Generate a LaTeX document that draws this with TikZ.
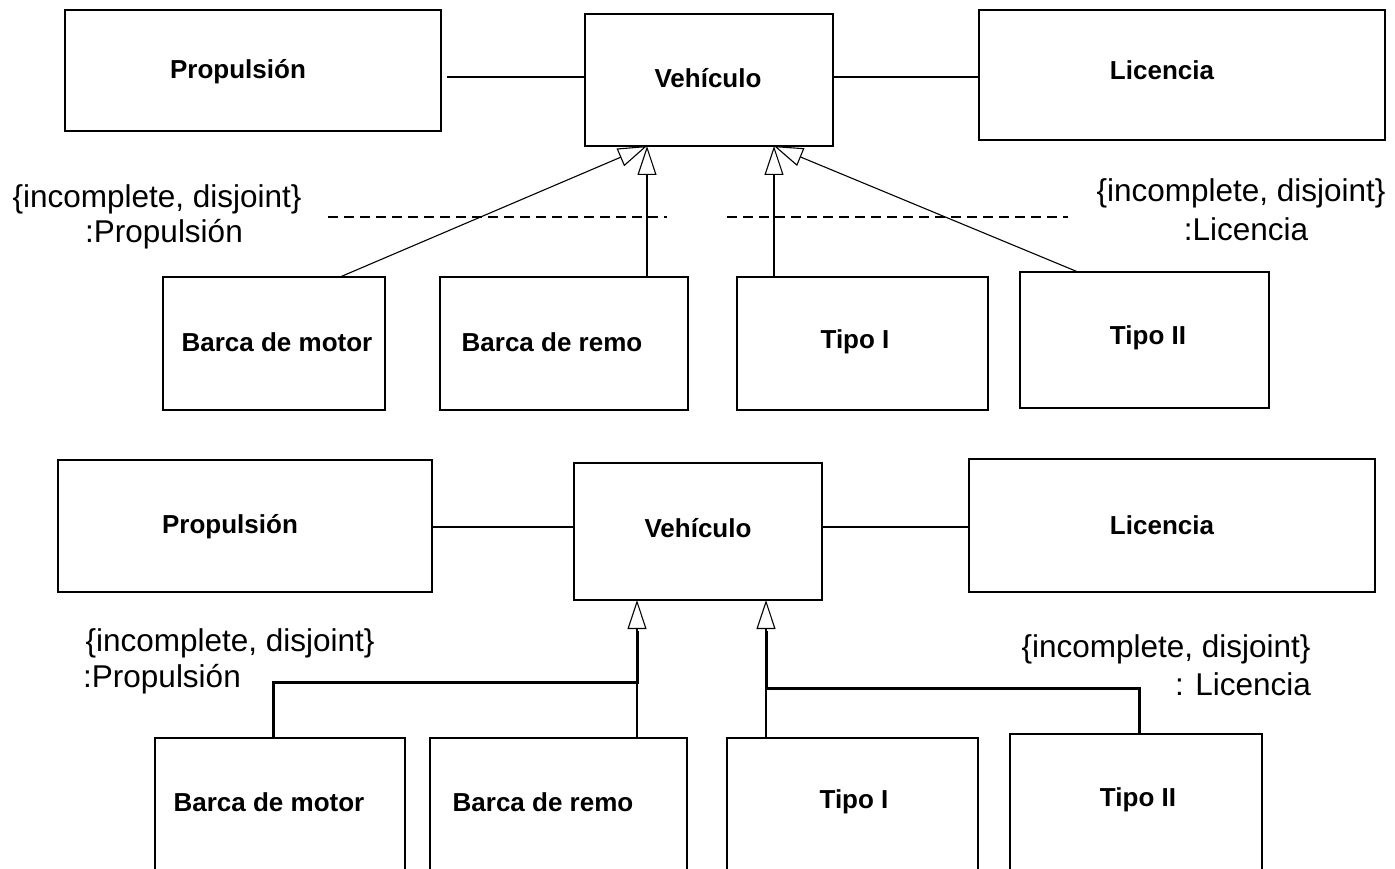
\documentclass[tikz,border=0pt]{standalone}
\usepackage{fontspec}
\setmainfont{Liberation Sans}
\usetikzlibrary{arrows.meta}
\begin{document}
\begin{tikzpicture}[x=1pt,y=-1pt,
  box/.style={draw,line width=1.6pt,minimum width=#1,inner sep=0pt},
  cname/.style={font=\fontsize{26}{31}\selectfont\bfseries},
  note/.style={font=\fontsize{31.5}{37}\selectfont,inner sep=0pt},
  assoc/.style={line width=1.6pt},
  gen/.style={line width=1.1pt,-{Triangle[open,length=29pt,width=19pt,fill=white,line width=1.1pt]}},
  thick2/.style={line width=3pt},
  dsh/.style={line width=2.6pt,dash pattern=on 10pt off 6pt}]
\useasboundingbox (0,0) rectangle (1395,869);
\clip (0,0) rectangle (1395,869);
% ---------- top diagram ----------
\node[box=376pt,minimum height=121pt] (prop1) at (253,70.5) {};
\node[cname] (prop1t) at (238,72) {Propulsión};
\node[box=248pt,minimum height=132pt] (veh1) at (709,80) {};
\node[cname] (veh1t) at (708,78) {Vehículo};
\node[box=406pt,minimum height=130pt] (lic1) at (1182,75) {};
\node[cname] (lic1t) at (1162,70) {Licencia};
\node[box=222pt,minimum height=133pt] (bm1) at (274,343.5) {};
\node[cname] (bm1t) at (277,342) {Barca de motor};
\node[box=248pt,minimum height=133pt] (br1) at (564,343.5) {};
\node[cname] (br1t) at (552,342) {Barca de remo};
\node[box=251pt,minimum height=133pt] (t11) at (862.5,343.5) {};
\node[cname] (t11t) at (855,342) {Tipo I};
\node[box=249pt,minimum height=136pt] (t21) at (1144.5,340) {};
\node[cname] (t21t) at (1148,338) {Tipo II};

\coordinate (pa1) at (447,77);
\draw[assoc] (pa1) -- (veh1.west |- pa1);
\draw[assoc] (veh1.east |- pa1) -- (lic1.west |- pa1);

\coordinate (tipL1) at (647,146);
\coordinate (tipR1) at (774,146);
\coordinate (sbm1) at (340,277);
\coordinate (sbr1) at (647,277);
\coordinate (st11) at (774,277);
\coordinate (st21) at (1078,272);

\coordinate (dl1a) at (328,217);
\coordinate (dl1b) at (667,217);
\coordinate (dr1a) at (727,217);
\coordinate (dr1b) at (1068,217);
\draw[dsh] (dl1a) -- (dl1b);
\draw[dsh] (dr1a) -- (dr1b);

\draw[gen] (sbm1) -- (tipL1);
\draw[gen] (sbr1) -- (tipL1);
\draw[gen] (st11) -- (tipR1);
\draw[gen] (st21) -- (tipR1);

\node[note] (n1a) at (157,199) {\{incomplete, disjoint\}};
\node[note] (n1b) at (164,234) {:Propulsión};
\node[note] (n1c) at (1241,193) {\{incomplete, disjoint\}};
\node[note] (n1d) at (1246,229) {:Licencia};

% ---------- bottom diagram ----------
\node[box=374pt,minimum height=132pt] (prop2) at (245,526) {};
\node[cname] (prop2t) at (230,527) {Propulsión};
\node[box=248pt,minimum height=137pt] (veh2) at (698,531.5) {};
\node[cname] (veh2t) at (698,528) {Vehículo};
\node[box=406pt,minimum height=133pt] (lic2) at (1172,525.5) {};
\node[cname] (lic2t) at (1162,525) {Licencia};
\node[box=250pt,minimum height=200pt,anchor=north] (bm2) at (280,737) {};
\node[cname] (bm2t) at (269,802) {Barca de motor};
\node[box=257pt,minimum height=200pt,anchor=north] (br2) at (558.5,737) {};
\node[cname] (br2t) at (543,802) {Barca de remo};
\node[box=251pt,minimum height=200pt,anchor=north] (t12) at (852.5,737) {};
\node[cname] (t12t) at (854,802) {Tipo I};
\node[box=252pt,minimum height=200pt,anchor=north] (t22) at (1136,733) {};
\node[cname] (t22t) at (1138,800) {Tipo II};

\coordinate (pa2) at (433,527);
\draw[assoc] (pa2) -- (veh2.west |- pa2);
\draw[assoc] (veh2.east |- pa2) -- (lic2.west |- pa2);

\coordinate (tipL2) at (637,600);
\coordinate (tipR2) at (766,600);
\coordinate (jL2) at (637,682);
\coordinate (jR2) at (766,688);
\coordinate (sbm2) at (273,737);
\coordinate (sbr2) at (637,737);
\coordinate (st12) at (766,737);
\coordinate (st22) at (1139,733);

\draw[thick2] (sbm2) -- (sbm2 |- jL2) -- (jL2) -- (637,631);
\draw[thick2] (st22) -- (st22 |- jR2) -- (jR2) -- (766,631);
\draw[gen] (sbr2) -- (tipL2);
\draw[gen] (st12) -- (tipR2);

\node[note] (n2a) at (230,643) {\{incomplete, disjoint\}};
\node[note] (n2b) at (162,679) {:Propulsión};
\node[note] (n2c) at (1166,649) {\{incomplete, disjoint\}};
\node[note] (n2d) at (1243,684) {: Licencia};
\end{tikzpicture}
\end{document}
